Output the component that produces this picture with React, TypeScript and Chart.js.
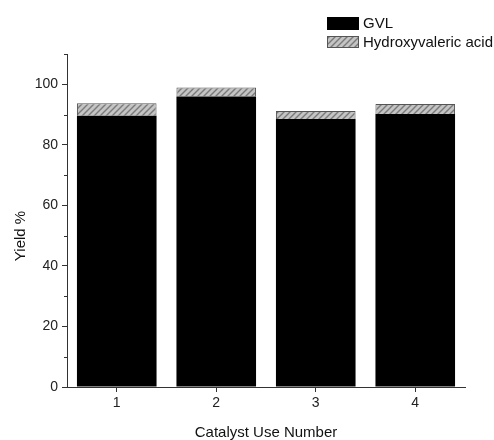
import React, { useEffect, useRef } from "react";
import { Chart, registerables } from "chart.js";
Chart.register(...registerables);

const categories = ["1", "2", "3", "4"];
const gvlValues = [89.6, 96.0, 88.5, 90.2];
const hvaValues = [4.1, 2.9, 2.7, 3.3];
const seriesNames = ["GVL", "Hydroxyvaleric acid"];
const yMinorTicks = [10, 30, 50, 70, 90, 110];
const yTitle = "Yield %";
const xTitle = "Catalyst Use Number";

const FONT = '"Liberation Sans", Arial, sans-serif';

function makeHatch(): CanvasPattern | string {
  const c = document.createElement("canvas");
  c.width = 6;
  c.height = 6;
  const g = c.getContext("2d");
  if (!g) return "#aaa";
  g.fillStyle = "#c4c4c4";
  g.fillRect(0, 0, 6, 6);
  g.strokeStyle = "#7a7a7a";
  g.lineWidth = 1.4;
  g.beginPath();
  g.moveTo(-1, 7);
  g.lineTo(7, -1);
  g.moveTo(-4, 4);
  g.lineTo(4, -4);
  g.moveTo(2, 10);
  g.lineTo(10, 2);
  g.stroke();
  const p = g.createPattern(c, "repeat");
  return p || "#aaa";
}

export default function App() {
  const ref = useRef<HTMLCanvasElement | null>(null);
  useEffect(() => {
    if (!ref.current) return;
    const hatch = makeHatch();
    const overlay = {
      id: "overlay",
      afterDraw(chart: any) {
        const ctx = chart.ctx;
        const ca = chart.chartArea;
        const ys = chart.scales.y;
        ctx.save();
        // minor ticks
        ctx.strokeStyle = "#333";
        ctx.lineWidth = 1;
        ctx.beginPath();
        yMinorTicks.forEach((v) => {
          const py = Math.round(ys.getPixelForValue(v)) + 0.5;
          ctx.moveTo(ca.left - 3, py);
          ctx.lineTo(ca.left, py);
        });
        ctx.stroke();
        // titles
        ctx.fillStyle = "#111";
        ctx.font = "15px " + FONT;
        ctx.textAlign = "center";
        ctx.textBaseline = "alphabetic";
        ctx.fillText(xTitle, (ca.left + ca.right) / 2, 437);
        ctx.save();
        ctx.translate(25, 236);
        ctx.rotate(-Math.PI / 2);
        ctx.fillText(yTitle, 0, 0);
        ctx.restore();
        // legend
        ctx.fillStyle = "#000";
        ctx.fillRect(327, 17, 32, 13);
        ctx.fillStyle = hatch as any;
        ctx.fillRect(327, 36, 32, 12);
        ctx.strokeStyle = "#555";
        ctx.strokeRect(327.5, 36.5, 31, 11);
        ctx.fillStyle = "#111";
        ctx.textAlign = "left";
        ctx.textBaseline = "middle";
        ctx.fillText(seriesNames[0], 363, 24);
        ctx.fillText(seriesNames[1], 363, 42.5);
        ctx.restore();
      },
    };
    const chart = new Chart(ref.current, {
      type: "bar",
      data: {
        labels: categories,
        datasets: [
          {
            label: seriesNames[0],
            data: gvlValues,
            backgroundColor: "#000",
            borderColor: "#000",
            borderWidth: 0,
          },
          {
            label: seriesNames[1],
            data: hvaValues,
            backgroundColor: hatch as any,
            borderColor: "#555",
            borderWidth: 1,
          },
        ],
      },
      options: {
        animation: false,
        responsive: false,
        devicePixelRatio: 1,
        layout: { padding: { top: 54, right: 29, left: 0, bottom: 0 } },
        datasets: { bar: { categoryPercentage: 1, barPercentage: 0.8 } },
        plugins: { legend: { display: false }, tooltip: { enabled: false } },
        scales: {
          x: {
            stacked: true,
            offset: true,
            grid: { offset: false, drawOnChartArea: false, tickLength: 5, tickColor: "#333" },
            border: { color: "#333", width: 1 },
            ticks: { color: "#222", font: { size: 14, family: FONT }, padding: 3 },
            afterFit: (s: any) => {
              s.height = 53;
            },
          },
          y: {
            stacked: true,
            min: 0,
            max: 110,
            grid: { drawOnChartArea: false, tickLength: 5, tickColor: "#333" },
            border: { color: "#333", width: 1 },
            ticks: {
              stepSize: 20,
              includeBounds: false,
              color: "#222",
              font: { size: 14, family: FONT },
              padding: 4,
            },
            afterFit: (s: any) => {
              s.width = 67;
            },
          },
        },
      },
      plugins: [overlay],
    });
    return () => chart.destroy();
  }, []);
  return (
    <div style={{ position: "fixed", left: 0, top: 0, width: 494, height: 440, background: "#fff" }}>
      <canvas ref={ref} width={494} height={440} style={{ width: 494, height: 440, display: "block" }} />
    </div>
  );
}
